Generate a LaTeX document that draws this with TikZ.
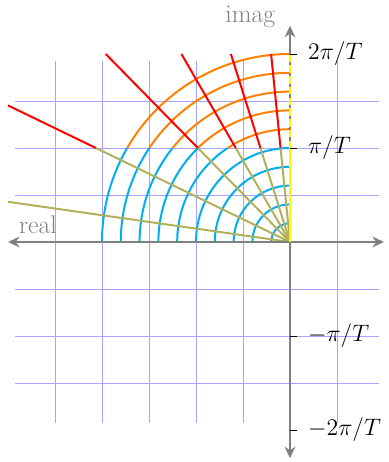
\documentclass[tikz,border=0pt]{standalone}
\usetikzlibrary{arrows.meta}
\definecolor{cCyan}{RGB}{0,174,239}
\definecolor{cOrange}{RGB}{255,128,0}
\definecolor{cOlive}{RGB}{178,176,90}
\definecolor{cYellow}{RGB}{255,245,0}
\definecolor{cGrid}{RGB}{165,165,255}
\begin{document}
\begin{tikzpicture}[
  gridline/.style={cGrid, line width=0.5pt},
  arclow/.style={cCyan, line width=1.2pt},
  archigh/.style={cOrange, line width=1.2pt},
  raylow/.style={cOlive, line width=1.2pt},
  rayhigh/.style={red, line width=1.2pt},
  axisline/.style={gray, line width=1.2pt, {Stealth[length=7pt,width=6.5pt]}-{Stealth[length=7pt,width=6.5pt]}},
  zeroline/.style={cYellow, line width=1.5pt},
  tickmark/.style={black, line width=0.6pt},
  ticklab/.style={anchor=west, inner sep=0pt, font=\fontsize{15.5}{18}\selectfont},
  axlab/.style={gray, anchor=base west, inner sep=0pt, font=\fontsize{15.5}{18}\selectfont}
]
\useasboundingbox (-6.1702,-4.6809) rectangle (2.1064,5.1489);
% grid
\draw[gridline] (-5.85,-3.85) grid (1.9,3.85);
% arcs of constant natural frequency
\foreach \k in {1,...,10}{
  \pgfmathsetmacro\r{0.4*\k}
  \ifnum\k<6
    \draw[arclow] (180:\r) arc[start angle=180,end angle=90,radius=\r];
  \else
    \pgfmathsetmacro\tc{180-asin(2/\r)}
    \draw[arclow] (180:\r) arc[start angle=180,end angle=\tc,radius=\r];
    \draw[archigh] (\tc:\r) arc[start angle=\tc,end angle=90,radius=\r];
  \fi
}
% rays of constant damping
\foreach \z in {0.1,0.3,0.5,0.7,0.9}{
  \pgfmathsetmacro\s{sqrt(1-\z*\z)}
  \pgfmathsetmacro\a{180-acos(\z)}
  \pgfmathsetmacro\la{2/\s}
  \pgfmathsetmacro\lb{min(4/\s,6/\z)}
  \draw[raylow] (0,0) -- (\a:\la);
  \draw[rayhigh] (\a:\la) -- (\a:\lb);
}
\draw[raylow] (0,0) -- ({180-acos(0.99)}:{6/0.99});
% axes
\draw[axisline] (-6,0) -- (2,0);
\draw[axisline] (0,-4.6) -- (0,4.6);
% zero damping line
\draw[zeroline] (0,0) -- (0,2);
\draw[zeroline, dash pattern=on 4.5pt off 2pt] (0,2) -- (0,4);
% ticks
\foreach \y/\t/\n in {4/{2\pi/T}/a, 2/{\pi/T}/b, -2/{-\pi/T}/c, -4/{-2\pi/T}/d}{
  \draw[tickmark] (0,\y) -- (0.14,\y);
  \node[ticklab] (tick\n) at (0.38,\y) {$\t$};
}
% axis labels
\node[axlab] (reallab) at (-5.77,0.19) {real};
\node[axlab] (imaglab) at (-1.38,4.66) {imag};
\end{tikzpicture}
\end{document}
